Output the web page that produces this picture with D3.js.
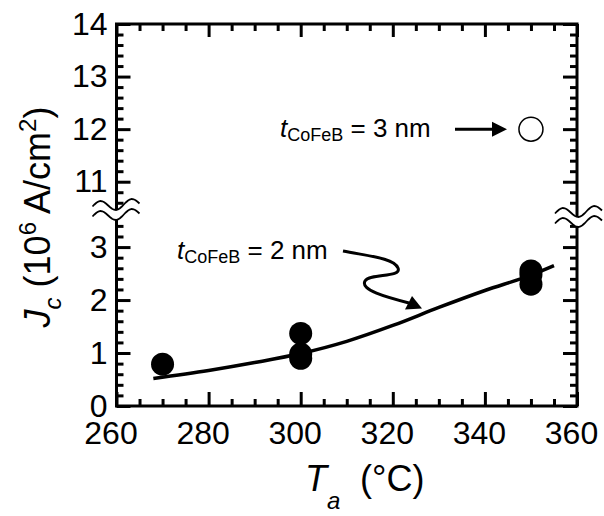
<!DOCTYPE html>
<html>
<head>
<meta charset="utf-8">
<script src="https://cdn.jsdelivr.net/npm/d3@7"></script>
<style>
  body { margin: 0; background: #fff; }
  text { font-family: "Liberation Sans", Arial, sans-serif; fill: #000; }
</style>
</head>
<body>
<div id="chart"></div>
<script>
// data
let arrDotT = [270, 300, 300, 300, 350, 350, 350];
let arrDotJ = [0.79, 1.37, 0.98, 0.90, 2.55, 2.48, 2.30];
let arrOpenT = [350];
let arrOpenJ = [12];
let arrFitT = [268, 280, 290, 300, 310, 320, 330, 340, 350, 355];
let arrFitJ = [0.52, 0.67, 0.82, 0.99, 1.22, 1.52, 1.86, 2.18, 2.47, 2.65];
let arrXTicks = [260, 280, 300, 320, 340, 360];
let arrYTicks = [0, 1, 2, 3, 11, 12, 13, 14];

let intTotalWid = 604;
let intTotalHgt = 516;

let svg = d3.select("#chart")
  .append("svg")
  .attr("width", intTotalWid)
  .attr("height", intTotalHgt);

// x scale, and a broken y scale (0..3.7 below the break, 10.5..14 above)
let fnX = d3.scaleLinear().domain([260, 360]).range([116.5, 577]);
let fnY = d3.scaleLinear().domain([0, 3.7, 10.5, 14]).range([406, 210, 208, 24]);

let intLeft = fnX(260), intRight = fnX(360), intTop = fnY(14), intBot = fnY(0);

// minor ticks: every 5 on x, every 0.2 on y (skipping the break)
let arrXMinor = d3.range(260, 361, 5).filter(v => v % 20 !== 0);
let arrYMinor = d3.range(0, 3.5, 0.2).concat(d3.range(10.6, 14.01, 0.2))
  .map(v => Math.round(v * 10) / 10)
  .filter(v => !Number.isInteger(v));

function styleAxis(g) {
  g.select(".domain").remove();
  g.selectAll(".tick line").attr("stroke", "#000").attr("stroke-width", 3);
  g.selectAll(".tick text").attr("font-size", 32).attr("fill", "#000");
}

// bottom
svg.append("g").attr("transform", `translate(0,${intBot})`)
  .call(d3.axisBottom(fnX).tickValues(arrXTicks).tickSizeInner(-14).tickPadding(15).tickFormat(d3.format("d")))
  .call(styleAxis)
  .call(g => g.selectAll(".tick text").attr("dx", -6));
svg.append("g").attr("transform", `translate(0,${intBot})`)
  .call(d3.axisBottom(fnX).tickValues(arrXMinor).tickSizeInner(-7).tickFormat(""))
  .call(styleAxis);
// top
svg.append("g").attr("transform", `translate(0,${intTop})`)
  .call(d3.axisTop(fnX).tickValues(arrXTicks).tickSizeInner(-13).tickFormat(""))
  .call(styleAxis);
svg.append("g").attr("transform", `translate(0,${intTop})`)
  .call(d3.axisTop(fnX).tickValues(arrXMinor).tickSizeInner(-7).tickFormat(""))
  .call(styleAxis);
// left
svg.append("g").attr("transform", `translate(${intLeft},0)`)
  .call(d3.axisLeft(fnY).tickValues(arrYTicks).tickSizeInner(-14).tickPadding(9).tickFormat(d3.format("d")))
  .call(styleAxis);
svg.append("g").attr("transform", `translate(${intLeft},0)`)
  .call(d3.axisLeft(fnY).tickValues(arrYMinor).tickSizeInner(-7).tickFormat(""))
  .call(styleAxis);
// right
svg.append("g").attr("transform", `translate(${intRight},0)`)
  .call(d3.axisRight(fnY).tickValues(arrYTicks).tickSizeInner(-14).tickFormat(""))
  .call(styleAxis);
svg.append("g").attr("transform", `translate(${intRight},0)`)
  .call(d3.axisRight(fnY).tickValues(arrYMinor).tickSizeInner(-7).tickFormat(""))
  .call(styleAxis);

// frame
svg.append("rect")
  .attr("x", intLeft).attr("y", intTop)
  .attr("width", intRight - intLeft).attr("height", intBot - intTop)
  .attr("fill", "none").attr("stroke", "#000").attr("stroke-width", 3);

// axis break marks
function wavePts(x0, yc, w) {
  let arr = [];
  for (let i = 0; i <= 24; i++) {
    let x = x0 + w * i / 24;
    let y = yc - 5 * Math.sin(2 * Math.PI * 1.5 * i / 24) - 5 * (i / 24 - 0.5) * 0.6;
    arr.push([x, y]);
  }
  return arr;
}
[[intLeft - 24, 210], [intRight - 22, 217]].forEach(([x0, yc]) => {
  let w = 47;
  let top = wavePts(x0, yc - 5, w), bot = wavePts(x0, yc + 5, w);
  // white band between the two waves
  svg.append("path")
    .attr("d", d3.line()(top.concat(bot.slice().reverse())) + "Z")
    .attr("fill", "#fff");
  [top, bot].forEach(arr => {
    svg.append("path").attr("d", d3.line()(arr))
      .attr("fill", "none").attr("stroke", "#000").attr("stroke-width", 1.8);
  });
});

// fit line
svg.append("path")
  .datum(d3.zip(arrFitT, arrFitJ))
  .attr("d", d3.line().x(d => fnX(d[0])).y(d => fnY(d[1])).curve(d3.curveMonotoneX))
  .attr("fill", "none").attr("stroke", "#000").attr("stroke-width", 3.5);

// filled points (2 nm)
svg.selectAll(".dot")
  .data(d3.zip(arrDotT, arrDotJ))
  .enter().append("circle")
  .attr("class", "dot")
  .attr("cx", d => fnX(d[0]))
  .attr("cy", d => fnY(d[1]))
  .attr("r", 11.5)
  .attr("fill", "#000");

// open point (3 nm)
svg.selectAll(".open")
  .data(d3.zip(arrOpenT, arrOpenJ))
  .enter().append("circle")
  .attr("class", "open")
  .attr("cx", d => fnX(d[0]))
  .attr("cy", d => fnY(d[1]))
  .attr("r", 12)
  .attr("fill", "#fff").attr("stroke", "#000").attr("stroke-width", 1.5);

// labels
function addLabel(x, y, strVal) {
  let t = svg.append("text").attr("x", x).attr("y", y).attr("font-size", 26);
  t.append("tspan").attr("font-style", "italic").text("t");
  t.append("tspan").attr("font-size", 18).attr("dy", 4).text("CoFeB");
  t.append("tspan").attr("dy", -4).text(` = ${strVal} nm`);
}
addLabel(280, 137, "3");
addLabel(177, 259, "2");

// straight arrow to the open circle
let yArr = fnY(12);
svg.append("line")
  .attr("x1", 455).attr("y1", yArr).attr("x2", 495).attr("y2", yArr)
  .attr("stroke", "#000").attr("stroke-width", 3);
svg.append("path")
  .attr("d", `M507,${yArr}L492,${yArr - 7.5}L492,${yArr + 7.5}Z`)
  .attr("fill", "#000");

// wavy arrow to the fit line
svg.append("path")
  .attr("d", "M343,251C368,256 394,258 398,268C402,278 370,273 365,281C360,290 386,297 409,303")
  .attr("fill", "none").attr("stroke", "#000").attr("stroke-width", 3);
svg.append("path")
  .attr("d", "M422,308.5L405,309.5L412,296Z")
  .attr("fill", "#000");

// axis titles
let tx = svg.append("text").attr("x", 305).attr("y", 491).attr("font-size", 36);
tx.append("tspan").attr("font-style", "italic").text("T");
tx.append("tspan").attr("font-style", "italic").attr("font-size", 24).attr("dy", 18).text("a");
tx.append("tspan").attr("x", 360).attr("dy", -18).text("(°C)");

let ty = svg.append("text")
  .attr("transform", "translate(50,217) rotate(-90)")
  .attr("text-anchor", "middle")
  .attr("font-size", 36);
ty.append("tspan").attr("font-style", "italic").text("J");
ty.append("tspan").attr("font-style", "italic").attr("font-size", 24).attr("dy", 11).text("c");
ty.append("tspan").attr("dy", -11).text(" (10");
ty.append("tspan").attr("font-size", 24).attr("dy", -14).text("6");
ty.append("tspan").attr("dy", 14).text(" A/cm");
ty.append("tspan").attr("font-size", 24).attr("dy", -14).text("2");
ty.append("tspan").attr("dy", 14).text(")");
</script>
</body>
</html>
